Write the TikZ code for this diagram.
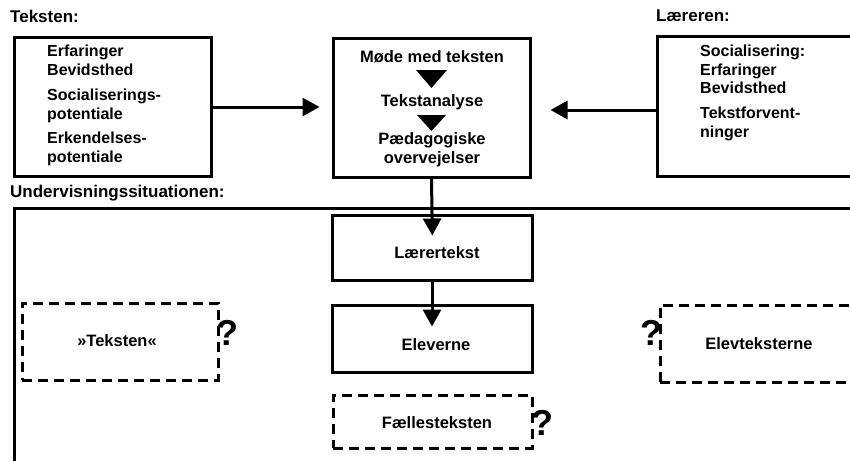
\documentclass[tikz,border=0pt]{standalone}
\usepackage{fontspec}
\setmainfont{Liberation Sans}
\usetikzlibrary{arrows.meta}
\begin{document}
\begin{tikzpicture}[x=1pt,y=-1pt,
  box/.style={draw, line width=3pt, inner sep=0pt},
  dbox/.style={draw, line width=3pt, inner sep=0pt, dash pattern=on 10pt off 6pt},
  lbl/.style={font=\bfseries\fontsize{17}{18}\selectfont, inner sep=0pt},
  txt/.style={font=\bfseries\fontsize{16}{18.5}\selectfont, inner sep=0pt, align=left, anchor=north west},
  ctxt/.style={font=\bfseries\fontsize{16.5}{18}\selectfont, inner sep=0pt},
  stxt/.style={font=\bfseries\fontsize{16.5}{18}\selectfont, inner sep=0pt},
  qm/.style={font=\bfseries\fontsize{36}{36}\selectfont, inner sep=0pt},
  conn/.style={line width=3pt, -{Triangle[width=18pt,length=17pt]}},
  tri/.style={fill=black, draw=none}
]
\useasboundingbox (0,0) rectangle (850,461);
\clip (0,0) rectangle (850,461);

% headings
\node[lbl, anchor=west] (hTekst) at (10,16) {Teksten:};
\node[lbl, anchor=west] (hLaerer) at (656,16) {Læreren:};
\node[lbl, anchor=west] (hUnder) at (10,193) {Undervisningssituationen:};

% top boxes
\node[box, minimum width=197pt, minimum height=139pt] (tekst) at (112.5,106.5) {};
\node[box, minimum width=197pt, minimum height=139pt] (midt) at (431.5,107.5) {};
\node[box, minimum width=220pt, minimum height=140pt] (laerer) at (767,106) {};

\node[txt] (t1) at (47,45) {Erfaringer\\Bevidsthed};
\node[txt] (t2) at (47,89) {Socialiserings-\\potentiale};
\node[txt] (t3) at (47,132) {Erkendelses-\\potentiale};

\node[txt] (l1) at (700,45) {Socialisering:\\Erfaringer\\Bevidsthed};
\node[txt] (l2) at (700,107) {Tekstforvent-\\ninger};

\node[ctxt] (m1) at (432,57) {Møde med teksten};
\node[ctxt] (m2) at (432,102) {Tekstanalyse};
\node[ctxt] (m3) at (432,140) {Pædagogiske};
\node[ctxt] (m4) at (432,159) {overvejelser};
\fill[tri] (416,70) -- (447,70) -- (431.5,88) -- cycle;
\fill[tri] (417,115) -- (446,115) -- (431.5,131) -- cycle;

% teaching situation frame
\coordinate (fa) at (14,461);
\coordinate (fb) at (14,208);
\coordinate (fc) at (850,208);
\draw[line width=3pt] (fa) -- (fb) -- (fc);

% lower boxes
\node[box, minimum width=200pt, minimum height=65pt] (laerertekst) at (432,247.5) {};
\node[stxt] (lt) at (437,253) {Lærertekst};
\node[box, minimum width=200pt, minimum height=67pt] (elever) at (432,338.5) {};
\node[stxt] (el) at (436,345) {Eleverne};

\node[dbox, minimum width=199pt, minimum height=53pt] (faelles) at (432.5,421.5) {};
\node[stxt] (fl) at (437,423) {Fællesteksten};
\node[dbox, minimum width=196pt, minimum height=77pt] (tekstdb) at (120,341.5) {};
\node[stxt] (tk) at (117,341) {»Teksten«};
\node[dbox, minimum width=200pt, minimum height=77pt] (elevt) at (760,343.5) {};
\node[stxt] (et) at (759,344) {Elevteksterne};

% question marks
\node[qm] (q1) at (227,333) {?};
\node[qm] (q2) at (542,423) {?};
\node[qm] (q3) at (651,333) {?};

% connectors
\draw[conn, shorten >=12pt] (tekst.east |- 0,107) -- (midt.west |- 0,107);
\draw[conn, shorten >=19pt] (laerer.west |- 0,110) -- (midt.east |- 0,110);
\draw[conn, shorten >=-22pt] (midt.south) -- (laerertekst.north);
\draw[conn, shorten >=-23pt] (laerertekst.south) -- (elever.north);
\end{tikzpicture}
\end{document}
